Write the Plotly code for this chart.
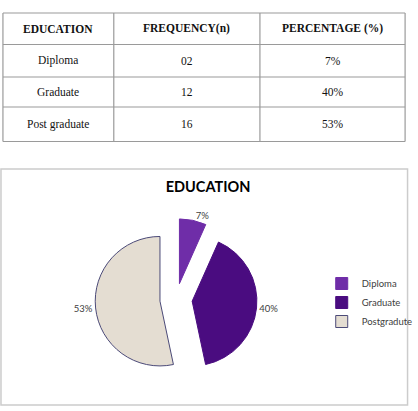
import plotly.graph_objects as go

# ---- data ----
categories = ["Diploma", "Graduate", "Post graduate"]
legend_labels = ["Diploma", "Graduate", "Postgradute"]
frequency = [2, 12, 16]
freq_text = ["02", "12", "16"]
percentage = [7, 40, 53]
headers = ["EDUCATION", "FREQUENCY(n)", "PERCENTAGE (%)"]

W, H = 418, 411

def px(x):
    return x / W

def py(y):
    return 1 - y / H

fig = go.Figure()

fig.add_trace(go.Pie(
    labels=legend_labels,
    values=frequency,
    text=[f"{p}%" for p in percentage],
    textinfo="text",
    textposition="outside",
    sort=False,
    direction="clockwise",
    rotation=0,
    pull=[0.25, 0.25, 0.25],
    marker=dict(colors=["#6F2DA8", "#4A0C80", "#E4DDD2"],
                line=dict(color=["#6F2DA8", "#4A0C80", "#4B4A78"], width=1)),
    textfont=dict(family="Lato", size=9.5, color="#404040"),
    domain=dict(x=[px(97), px(262)], y=[py(382), py(217)]),
    hoverinfo="label+percent",
))

shapes = []
annotations = []

# table grid
col_x = [3, 116, 265, 413]
row_y = [13, 44.5, 77, 107, 141.5]
grid = "#9a9a9a"
for x in col_x:
    shapes.append(dict(type="line", xref="paper", yref="paper",
                       x0=px(x), x1=px(x), y0=py(row_y[0]), y1=py(row_y[-1]),
                       line=dict(color=grid, width=1.2)))
for y in row_y:
    shapes.append(dict(type="line", xref="paper", yref="paper",
                       x0=px(col_x[0]), x1=px(col_x[-1]), y0=py(y), y1=py(y),
                       line=dict(color=grid, width=1.2)))

col_c = [(col_x[i] + col_x[i + 1]) / 2 for i in range(3)]
row_c = [(row_y[i] + row_y[i + 1]) / 2 for i in range(4)]

cell_font = dict(family="Liberation Serif", size=11.5, color="#111")
for j, h in enumerate(headers):
    annotations.append(dict(x=px(col_c[j]), y=py(row_c[0]), xref="paper", yref="paper",
                            xanchor="center", yanchor="middle",
                            text=f"<b>{h}</b>", showarrow=False, font=cell_font))
for i in range(3):
    vals = [categories[i], freq_text[i], f"{percentage[i]}%"]
    for j, v in enumerate(vals):
        annotations.append(dict(x=px(col_c[j]), y=py(row_c[i + 1]), xref="paper", yref="paper",
                                xanchor="center", yanchor="middle",
                                text=v, showarrow=False, font=cell_font))

# chart frame
shapes.append(dict(type="rect", xref="paper", yref="paper",
                   x0=px(1), x1=px(415.5), y0=py(405), y1=py(169),
                   line=dict(color="#cccccc", width=1.5)))

fig.update_layout(
    width=W, height=H,
    margin=dict(l=0, r=0, t=0, b=0),
    paper_bgcolor="white",
    plot_bgcolor="white",
    shapes=shapes,
    annotations=annotations,
    title=dict(text="<b>EDUCATION</b>", x=px(208), y=py(187),
               xanchor="center", yanchor="middle",
               font=dict(family="Lato", size=14.5, color="#000")),
    legend=dict(x=px(328), y=py(269), xanchor="left", yanchor="top",
                font=dict(family="Lato", size=9.5, color="#404040"),
                itemwidth=30, tracegroupgap=0, bgcolor="rgba(0,0,0,0)"),
    showlegend=True,
)

fig.write_html("out.html")
